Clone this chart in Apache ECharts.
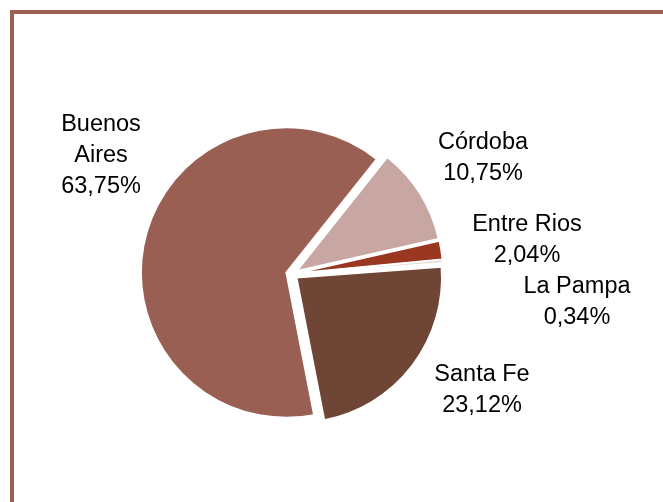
<!DOCTYPE html>
<html>
<head>
<meta charset="utf-8">
<script src="https://cdn.jsdelivr.net/npm/echarts@6/dist/echarts.min.js"></script>
<style>
  html, body { margin: 0; padding: 0; background: #fff; }
  #chart { width: 663px; height: 502px; }
</style>
</head>
<body>
<div id="chart"></div>
<script>
var provincias = ["Buenos Aires", "Córdoba", "Entre Rios", "La Pampa", "Santa Fe"];
var etiquetas = ["Buenos\nAires", "Córdoba", "Entre Rios", "La Pampa", "Santa Fe"];
var porcentajes = [63.75, 10.75, 2.04, 0.34, 23.12];
var colores = ["#995f53", "#c8a7a3", "#993721", "#e6d5d2", "#6f4536"];
// centro de cada etiqueta (como en la hoja original)
var posEtiquetas = [[101, 156], [483, 158], [527, 240], [577, 302], [482, 390]];

var chart = echarts.init(document.getElementById("chart"));

var datos = provincias.map(function (p, i) {
   return {
      name: p,
      value: porcentajes[i],
      selected: true,
      itemStyle: { color: colores[i] }
   };
});

var graficos = [{
   type: "rect",
   shape: { x: 12, y: 12, width: 700, height: 600 },
   style: { fill: "none", stroke: "#9a5f55", lineWidth: 4 }
}];
provincias.forEach(function (p, i) {
   graficos.push({
      type: "text",
      x: posEtiquetas[i][0],
      y: posEtiquetas[i][1],
      style: {
         text: etiquetas[i] + "\n" + porcentajes[i].toFixed(2).replace(".", ",") + "%",
         fill: "#000",
         font: "23.5px 'Liberation Sans', Arial, sans-serif",
         lineHeight: 31,
         align: "center",
         verticalAlign: "middle"
      }
   });
});

var option = {
   animation: false,
   graphic: graficos,
   series: [{
      type: "pie",
      center: [292, 274],
      radius: 145,
      startAngle: 281,
      clockwise: true,
      selectedMode: "multiple",
      selectedOffset: 6,
      itemStyle: { borderColor: "#fff", borderWidth: 1.5 },
      emphasis: { disabled: true },
      label: { show: false },
      labelLine: { show: false },
      data: datos
   }]
};
chart.setOption(option);
</script>
</body>
</html>
